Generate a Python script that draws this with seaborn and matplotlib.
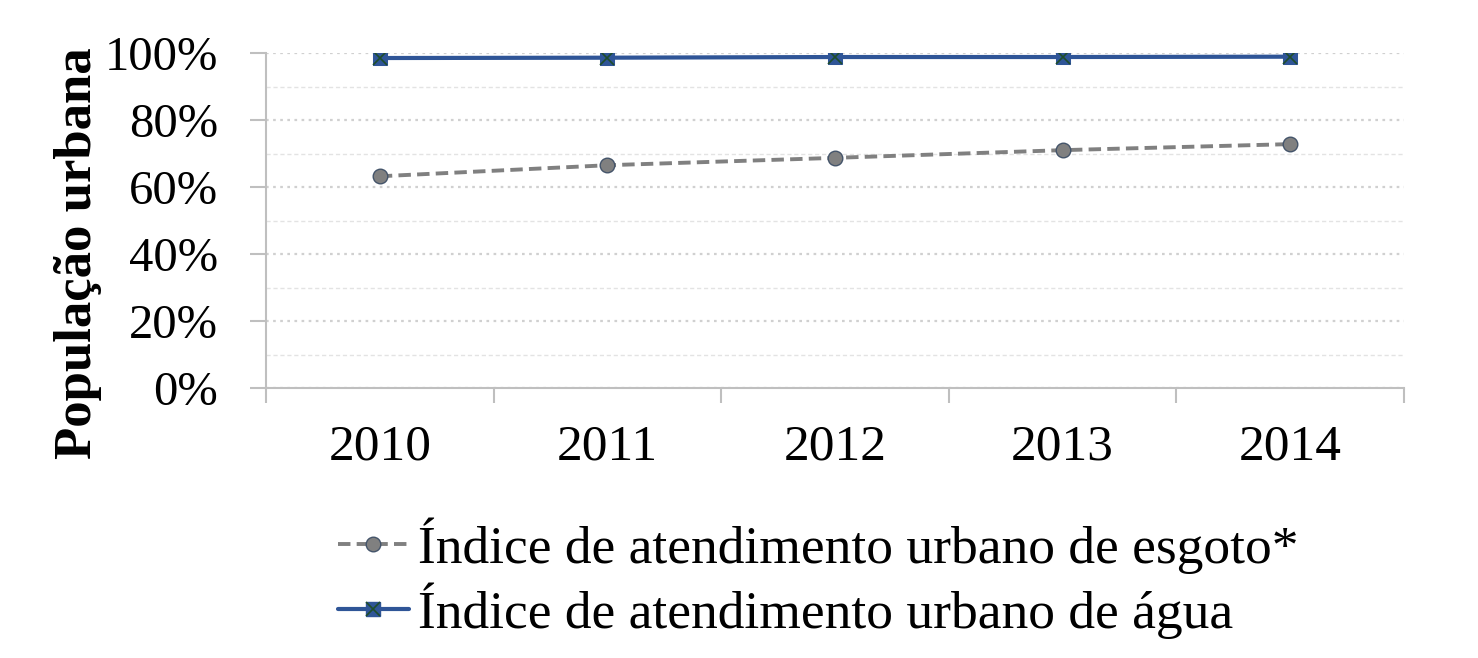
import matplotlib
matplotlib.use("Agg")
import matplotlib.pyplot as plt
import seaborn as sns
import pandas as pd
import numpy as np
from matplotlib.lines import Line2D
from matplotlib.legend_handler import HandlerTuple
from matplotlib.ticker import FixedLocator, FuncFormatter, MultipleLocator

years = ["2010", "2011", "2012", "2013", "2014"]
esgoto = [63.2, 66.5, 68.7, 71.0, 72.8]
agua = [98.5, 98.6, 98.8, 98.8, 98.9]
label_esgoto = "Índice de atendimento urbano de esgoto*"
label_agua = "Índice de atendimento urbano de água"
ylabel = "População urbana"

sns.set_style("white")
plt.rcParams["font.family"] = ["Liberation Serif", "DejaVu Serif"]
plt.rcParams["text.color"] = "black"
plt.rcParams["axes.labelcolor"] = "black"

df = pd.DataFrame({"pos": np.arange(len(years)), "esgoto": esgoto, "agua": agua})

fig = plt.figure(figsize=(14.78, 6.58), dpi=100)
ax = fig.add_axes([266/1478, 1-388/658, (1404-266)/1478, (388-53)/658])

grey = "#808080"
blue = "#2F5597"
xgreen = "#1E4D2B"
axisgrey = "#BFBFBF"

sns.lineplot(data=df, x="pos", y="esgoto", ax=ax, color=grey, linestyle=(0, (3.2, 1.6)),
             linewidth=2.8, marker="o", markersize=10.5, markerfacecolor=grey,
             markeredgecolor="#44546A", markeredgewidth=1.0, zorder=3)
sns.lineplot(data=df, x="pos", y="agua", ax=ax, color=blue, linewidth=3.0,
             marker="s", markersize=10.5, markerfacecolor=blue, markeredgecolor=blue, zorder=3)
ax.plot(df["pos"], df["agua"], linestyle="none", marker="x", markersize=9.5,
        markeredgecolor=xgreen, markeredgewidth=1.2, zorder=4)

ax.set_xlim(-0.5, 4.5)
ax.set_ylim(0, 100)

ax.set_xticks(np.arange(len(years)))
ax.set_xticklabels(years, fontsize=37)
ax.xaxis.set_minor_locator(FixedLocator(np.arange(-0.5, 5.0, 1.0)))
ax.tick_params(axis="x", which="major", length=0, pad=26, labelcolor="black")
ax.tick_params(axis="x", which="minor", length=11, width=1.5, color=axisgrey,
               direction="out", bottom=True)

ax.yaxis.set_major_locator(MultipleLocator(20))
ax.yaxis.set_minor_locator(MultipleLocator(10))
ax.yaxis.set_major_formatter(FuncFormatter(lambda v, p: f"{int(v)}%"))
ax.tick_params(axis="y", which="major", labelsize=35, length=11.5, width=1.5, color=axisgrey,
               direction="out", left=True, pad=23, labelcolor="black")
ax.tick_params(axis="y", which="minor", length=0)

ax.grid(False)
ax.yaxis.grid(True, which="major", linestyle=(0, (1.2, 2.0)), color="#D0D0D0", linewidth=1.6)
ax.yaxis.grid(True, which="minor", linestyle=(0, (3, 2)), color="#E3E3E3", linewidth=1.0)
ax.set_axisbelow(True)

for s in ["top", "right"]:
    ax.spines[s].set_visible(False)
for s in ["left", "bottom"]:
    ax.spines[s].set_color(axisgrey)
    ax.spines[s].set_linewidth(1.5)

ax.set_xlabel("")
ax.set_ylabel(ylabel, fontsize=38, fontweight="bold")
ax.yaxis.set_label_coords(-0.144, 0.403)

h1 = Line2D([], [], color=grey, linestyle=(0, (3.2, 1.6)), linewidth=2.8, marker="o",
            markersize=10.5, markerfacecolor=grey, markeredgecolor="#44546A")
h2a = Line2D([], [], color=blue, linewidth=3.0, marker="s", markersize=10.5,
             markerfacecolor=blue, markeredgecolor=blue)
h2b = Line2D([], [], linestyle="none", marker="x", markersize=9.5, markeredgecolor=xgreen,
             markeredgewidth=1.2)
fig.legend([h1, (h2a, h2b)], [label_esgoto, label_agua],
           handler_map={tuple: HandlerTuple(ndivide=1, pad=0)},
           loc="center left", bbox_to_anchor=(338/1478, 1-578/658), frameon=False,
           fontsize=38.5, handlelength=1.32, handletextpad=0.17, labelspacing=0.15,
           borderpad=0, borderaxespad=0)

fig.savefig("out.png", dpi=100)
